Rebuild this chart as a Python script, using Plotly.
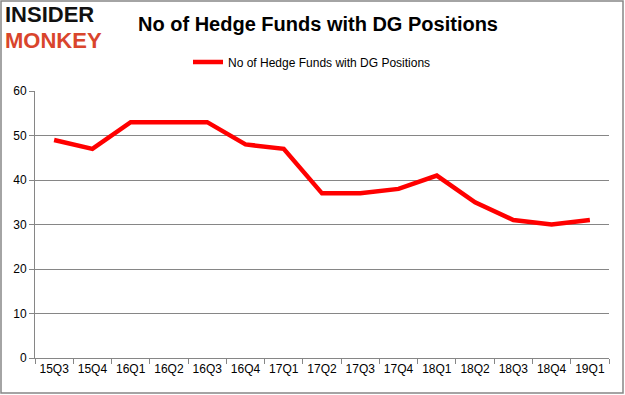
import plotly.graph_objects as go

quarters = ["15Q3", "15Q4", "16Q1", "16Q2", "16Q3", "16Q4", "17Q1", "17Q2",
            "17Q3", "17Q4", "18Q1", "18Q2", "18Q3", "18Q4", "19Q1"]
funds = [49, 47, 53, 53, 53, 48, 47, 37, 37, 38, 41, 35, 31, 30, 31]
series_name = "No of Hedge Funds with DG Positions"
y_ticks = [0, 10, 20, 30, 40, 50, 60]

W, H = 625, 395
L, R, T, B = 35, 609, 91, 358
pw, ph = R - L, B - T

def px(x):
    return (x - L) / pw

def py(y):
    return (B - y) / ph

fig = go.Figure()
fig.add_trace(go.Scatter(
    x=quarters, y=funds, mode="lines", name=series_name,
    line=dict(color="#ff0000", width=4.5),
))

grid = "#868686"
fig.update_layout(
    width=W, height=H,
    margin=dict(l=L, r=W - R, t=T, b=H - B, pad=0, autoexpand=False),
    paper_bgcolor="white", plot_bgcolor="white",
    font=dict(family="Liberation Sans, Arial, sans-serif", size=12, color="#000000"),
    showlegend=True,
    legend=dict(orientation="h", xref="container", yref="container",
                x=188 / W, xanchor="left", y=1 - 62 / H, yanchor="middle",
                font=dict(size=12), bgcolor="rgba(0,0,0,0)", itemwidth=30),
    title=dict(text="<b>" + series_name + "</b>", x=318 / W, xanchor="center",
               y=1 - 24 / H, yanchor="middle",
               font=dict(size=20, color="#000000")),
    xaxis=dict(type="category", showgrid=False, showline=True, linecolor=grid,
               linewidth=1, ticks="outside", tickson="boundaries", ticklen=5,
               tickcolor=grid, tickfont=dict(size=12), tickangle=0,
               automargin=False, range=[-0.5, 14.5]),
    yaxis=dict(range=[0, 60], tickvals=y_ticks, showgrid=True, gridcolor=grid,
               gridwidth=1, showline=True, linecolor=grid, linewidth=1,
               ticks="outside", ticklen=5, tickcolor=grid, zeroline=False,
               automargin=False, tickfont=dict(size=12)),
)

# outer frame
fig.add_shape(type="rect", xref="paper", yref="paper",
              x0=px(1), x1=px(623), y0=py(393), y1=py(1),
              line=dict(color="#868686", width=1.5), fillcolor="rgba(0,0,0,0)")

# logo
fig.add_annotation(text="<b>INSIDER</b>", xref="paper", yref="paper",
                   x=px(3), y=py(14), xanchor="left", yanchor="middle",
                   showarrow=False, height=24, valign="middle",
                   font=dict(family="Liberation Sans Narrow, sans-serif", size=22,
                             color="#111111"))
fig.add_annotation(text="<b>MONKEY</b>", xref="paper", yref="paper",
                   x=px(3), y=py(40), xanchor="left", yanchor="middle",
                   showarrow=False, height=24, valign="middle",
                   font=dict(family="Liberation Sans Narrow, sans-serif", size=22,
                             color="#d9452c"))

fig.write_html("out.html", config={"displayModeBar": False},
               post_script="document.body.style.margin='0';")
